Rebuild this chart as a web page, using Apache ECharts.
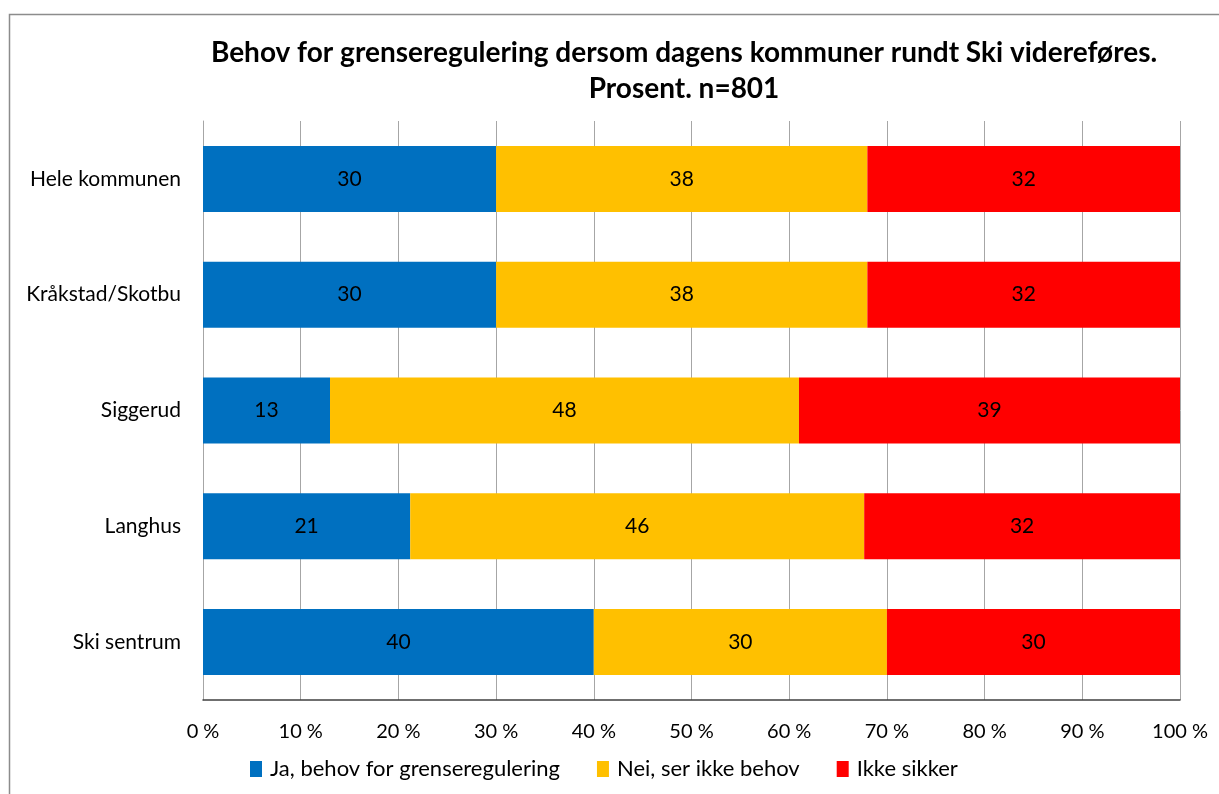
<!DOCTYPE html>
<html>
<head>
<meta charset="utf-8">
<script src="https://cdn.jsdelivr.net/npm/echarts@6/dist/echarts.min.js"></script>
<style>
    html, body {margin: 0; padding: 0; background: #fff;}
    #chart {width: 1219px; height: 794px;}
</style>
</head>
<body>
<div id="chart"></div>
<script>
// områder, ovenfra og ned
var areas = ['Hele kommunen', 'Kråkstad/Skotbu', 'Siggerud', 'Langhus', 'Ski sentrum'];
var seriesNames = ['Ja, behov for grenseregulering', 'Nei, ser ikke behov', 'Ikke sikker'];
var ja = [30, 30, 13, 21, 40];
var nei = [38, 38, 48, 46, 30];
var ikkeSikker = [32, 32, 39, 32, 30];
var xTicks = [0, 10, 20, 30, 40, 50, 60, 70, 80, 90, 100];

var colors = ['#0070C0', '#FFC000', '#FF0000'];
var font = 'Lato, "Open Sans", sans-serif';

var raw = [ja, nei, ikkeSikker];
// 100 % stablet: hver rad skaleres til summen
var totals = areas.map(function (a, i) {
    return ja[i] + nei[i] + ikkeSikker[i];
});

var chart = echarts.init(document.getElementById('chart'));

var option = {
    animation: false,
    color: colors,
    title: {
        text: 'Behov for grenseregulering dersom dagens kommuner rundt Ski videreføres.\nProsent. n=801',
        left: 679,
        top: 30,
        textAlign: 'center',
        textStyle: {
            fontFamily: font,
            fontSize: 28,
            fontWeight: 'bold',
            color: '#000',
            lineHeight: 36
        }
    },
    legend: {
        bottom: 9,
        left: 245,
        itemWidth: 12,
        itemHeight: 16,
        itemGap: 37,
        icon: 'rect',
        textStyle: {fontFamily: font, fontSize: 22, color: '#000', padding: [0, 0, 0, 3]},
        data: seriesNames
    },
    grid: {left: 203, right: 39, top: 121, bottom: 94},
    xAxis: {
        type: 'value',
        min: 0,
        max: 100,
        interval: 10,
        axisLine: {show: true, lineStyle: {color: '#404040', width: 1.5}},
        axisTick: {show: false},
        splitLine: {show: true, lineStyle: {color: '#a6a6a6'}},
        axisLabel: {
            margin: 22,
            fontFamily: font,
            fontSize: 20,
            color: '#000',
            formatter: function (v) {
                return xTicks.indexOf(v) >= 0 ? v + ' %' : '';
            }
        }
    },
    yAxis: {
        type: 'category',
        inverse: true,
        data: areas,
        axisLine: {show: true, lineStyle: {color: '#a6a6a6'}},
        axisTick: {show: false},
        axisLabel: {
            margin: 22,
            fontFamily: font,
            fontSize: 21,
            color: '#000'
        }
    },
    series: raw.map(function (vals, s) {
        return {
            name: seriesNames[s],
            type: 'bar',
            stack: 'total',
            barWidth: 66,
            data: vals.map(function (v, i) {
                return {value: v / totals[i] * 100, raw: v};
            }),
            label: {
                show: true,
                position: 'inside',
                fontFamily: font,
                fontSize: 21,
                color: '#000',
                formatter: function (p) {
                    return p.data.raw;
                }
            }
        };
    }),
    graphic: [{
        type: 'rect',
        shape: {x: 9.5, y: 14.5, width: 1300, height: 900},
        style: {fill: 'none', stroke: '#8c8c8c', lineWidth: 1.5},
        silent: true
    }]
};

chart.setOption(option);
</script>
</body>
</html>
